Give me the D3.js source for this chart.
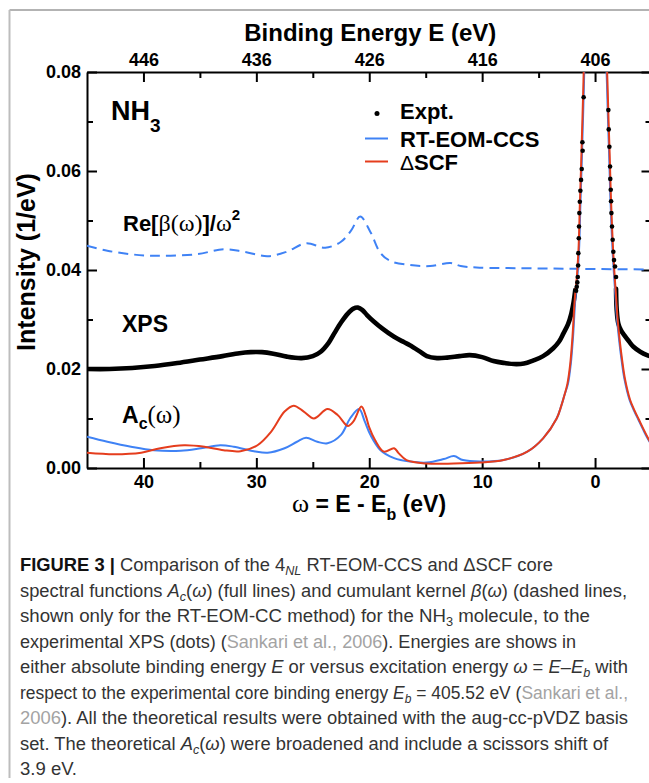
<!DOCTYPE html>
<html>
<head>
<meta charset="utf-8">
<script src="https://cdn.jsdelivr.net/npm/d3@7"></script>
<style>
  body { margin: 0; background: #fff; }
</style>
</head>
<body>
<div id="chart"></div>
<script>
// ---- values ----
const yTicks = [0, 0.02, 0.04, 0.06, 0.08];
const yMinor = [0.01, 0.03, 0.05, 0.07];
const xTicks = [40, 30, 20, 10, 0];
const xMinor = [35, 25, 15, 5];
const eTicks = [446, 436, 426, 416, 406];
const eMinor = [441, 431, 421, 411];
const eShift = 406; // top axis sits on top of the omega axis at this offset

// experimental XPS (thick dotted trace), both sides of the main peak
const xpsLeftOmega = [45, 43, 41, 39, 37, 35, 33, 31.5, 30.5, 29.5, 28.5, 27.3, 26, 25, 24.3, 23.6, 23.1, 22.5, 21.9, 21.4, 21.0, 20.6, 20.2, 19.6, 18.8, 17.8, 16.9, 16.4, 15.5, 14.9, 14.0, 13.1, 12, 11.1, 10, 9.0, 8, 7.2, 6.3, 5.5, 4.6, 3.7, 3.2, 2.8, 2.4, 2.1, 1.9, 1.75];
const xpsLeftVal = [0.0200, 0.0200, 0.0202, 0.0206, 0.0212, 0.0219, 0.0226, 0.0232, 0.0234, 0.0234, 0.0231, 0.0225, 0.0222, 0.0226, 0.0235, 0.0253, 0.0272, 0.0294, 0.0312, 0.0322, 0.0324, 0.0319, 0.0309, 0.0296, 0.0281, 0.0265, 0.0254, 0.0248, 0.0235, 0.0226, 0.0222, 0.0223, 0.0226, 0.0228, 0.0224, 0.0216, 0.0212, 0.0210, 0.0211, 0.0217, 0.0226, 0.0242, 0.0255, 0.0272, 0.0290, 0.0312, 0.0335, 0.0360];
const xpsRightOmega = [-1.86, -1.92, -2.06, -2.3, -2.6, -3.0, -3.4, -4.0, -4.6, -5.0];
const xpsRightVal = [0.0362, 0.0319, 0.0292, 0.0278, 0.0268, 0.0256, 0.0245, 0.0235, 0.0228, 0.0225];
// separate expt. points on the steep flanks of the peak
const dotLeftOmega = [1.01, 1.12, 1.10, 1.18, 1.24, 1.30, 1.35, 1.39, 1.42, 1.44, 1.48, 1.50, 1.53, 1.57, 1.62, 1.68];
const dotLeftVal = [0.0749, 0.0658, 0.0641, 0.0604, 0.0582, 0.0560, 0.0538, 0.0515, 0.0488, 0.0464, 0.0434, 0.0409, 0.0386, 0.0375, 0.0366, 0.0358];
const dotRightOmega = [-1.18, -1.21, -1.27, -1.33, -1.35, -1.39, -1.42, -1.45, -1.50, -1.56, -1.62, -1.68, -1.77, -1.86];
const dotRightVal = [0.0723, 0.0684, 0.0649, 0.0609, 0.0584, 0.0562, 0.0539, 0.0515, 0.0488, 0.0461, 0.0437, 0.0420, 0.0407, 0.0386];

// Delta-SCF spectral function (red)
const scfOmega = [45, 42.6, 40.2, 38.5, 36.4, 34.6, 32.9, 31.4, 29.9, 28.7, 27.5, 26.7, 25.8, 24.9, 23.7, 22.8, 21.9, 21.4, 20.7, 20.3, 20.0, 19.5, 18.7, 17.8, 17.4, 16.7, 14.9, 12.5, 10.2, 8.1, 6.0, 4.6, 3.4, 3.0, 2.7, 2.45, 2.2, 2.0, 1.8, 1.6, 1.45, 1.35, 1.25, 1.15, 1.05, 0.95, 0.7, 0.35, 0, -0.35, -0.7, -0.95, -1.1, -1.2, -1.3, -1.4, -1.5, -1.6, -1.7, -1.85, -2.0, -2.2, -2.4, -2.65, -3.1, -3.5, -3.9, -4.3, -4.7, -5.0];
const scfVal = [0.0031, 0.0028, 0.0031, 0.0040, 0.0046, 0.0043, 0.0036, 0.0034, 0.0046, 0.0073, 0.0114, 0.0126, 0.0114, 0.0100, 0.0119, 0.0107, 0.0085, 0.0094, 0.0124, 0.0105, 0.0082, 0.0057, 0.0033, 0.0040, 0.0030, 0.0016, 0.0009, 0.0009, 0.0011, 0.0016, 0.0033, 0.0060, 0.0100, 0.0125, 0.0148, 0.0170, 0.0210, 0.0265, 0.0340, 0.0390, 0.0450, 0.0530, 0.0600, 0.0680, 0.0760, 0.0860, 0.1150, 0.1700, 0.2100, 0.1700, 0.1150, 0.0880, 0.0780, 0.0700, 0.0630, 0.0550, 0.0490, 0.0440, 0.0400, 0.0350, 0.0300, 0.0255, 0.0218, 0.0180, 0.0138, 0.0116, 0.0097, 0.0078, 0.0060, 0.0048];

// RT-EOM-CCS spectral function (blue)
const eomOmega = [45, 43.2, 41.1, 39.1, 36.7, 34.9, 33.2, 32.0, 30.2, 29.0, 27.5, 26.4, 25.6, 24.6, 23.7, 22.5, 21.7, 20.9, 20.4, 19.9, 19.0, 17.8, 16.4, 14.9, 13.4, 12.5, 11.7, 10.2, 8.1, 6.0, 4.6, 3.4, 3.0, 2.7, 2.4, 2.15, 1.95, 1.75, 1.55, 1.4, 1.3, 1.2, 1.1, 1.0, 0.9, 0.65, 0.3, 0, -0.3, -0.65, -0.9, -1.05, -1.15, -1.25, -1.35, -1.45, -1.55, -1.65, -1.8, -1.95, -2.15, -2.35, -2.6, -3.05, -3.45, -3.85, -4.25, -4.65, -5.0];
const eomVal = [0.0063, 0.0053, 0.0043, 0.0036, 0.0035, 0.0040, 0.0046, 0.0043, 0.0034, 0.0031, 0.0040, 0.0053, 0.0061, 0.0053, 0.0050, 0.0067, 0.0100, 0.0119, 0.0094, 0.0067, 0.0036, 0.0020, 0.0013, 0.0011, 0.0018, 0.0024, 0.0016, 0.0013, 0.0016, 0.0033, 0.0060, 0.0100, 0.0125, 0.0148, 0.0170, 0.0210, 0.0265, 0.0340, 0.0390, 0.0450, 0.0530, 0.0600, 0.0680, 0.0760, 0.0860, 0.1150, 0.1700, 0.2100, 0.1700, 0.1150, 0.0880, 0.0780, 0.0700, 0.0630, 0.0550, 0.0490, 0.0440, 0.0400, 0.0350, 0.0300, 0.0255, 0.0218, 0.0180, 0.0138, 0.0116, 0.0097, 0.0078, 0.0060, 0.0047];

// cumulant kernel Re[beta]/omega^2 (blue dashed)
const betaOmega = [45, 43.2, 41.2, 39.5, 37.6, 35.2, 32.9, 31.1, 29.0, 27.3, 25.6, 23.9, 22.5, 21.6, 20.8, 19.9, 19.0, 18.1, 16.4, 14.6, 12.8, 11.9, 10.5, 8, 4, 0, -5];
const betaVal = [0.0449, 0.0439, 0.0432, 0.0429, 0.0429, 0.0432, 0.0442, 0.0437, 0.0428, 0.0437, 0.0454, 0.0445, 0.0457, 0.0480, 0.0508, 0.0477, 0.0434, 0.0418, 0.0410, 0.0408, 0.0414, 0.0408, 0.0405, 0.0404, 0.0403, 0.0402, 0.0401];

const legendLabels = ["Expt.", "RT-EOM-CCS", "SCF"];

const blue = "#3f82f5";
const red = "#e53d1d";

// ---- layout ----
const W = 649, H = 783;
const L = 87, R = 651.5, T = 72, B = 468;

const svg = d3.select("#chart").append("svg")
  .attr("width", W).attr("height", H)
  .style("font-family", "'Liberation Sans', Arial, sans-serif");

// figure frame (top + left rule)
svg.append("line").attr("x1", 9.5).attr("x2", W).attr("y1", 10).attr("y2", 10)
  .attr("stroke", "#9a9a9a").attr("stroke-width", 1.5);
svg.append("line").attr("x1", 9.5).attr("x2", 9.5).attr("y1", 10).attr("y2", 778)
  .attr("stroke", "#bdbdbd").attr("stroke-width", 2);

const x = d3.scaleLinear().domain([45, -5]).range([L, R]);
const xE = d3.scaleLinear().domain([45 + eShift, -5 + eShift]).range([L, R]);
const y = d3.scaleLinear().domain([0, 0.08]).range([B, T]);

function styleAxis(g) {
  g.select(".domain").attr("stroke-width", 2);
  g.selectAll(".tick line").attr("stroke-width", 2);
  g.selectAll(".tick text")
    .attr("font-size", 18).attr("font-weight", "bold")
    .attr("font-family", "'Liberation Sans', Arial, sans-serif").attr("fill", "#000");
}
function minorAxis(g) {
  g.select(".domain").remove();
  g.selectAll(".tick line").attr("stroke-width", 2);
}

svg.append("g").attr("transform", `translate(0,${B})`)
  .call(d3.axisBottom(x).tickValues(xTicks).tickSizeInner(-10).tickSizeOuter(0).tickPadding(7).tickFormat(d3.format("d")))
  .call(styleAxis);
svg.append("g").attr("transform", `translate(0,${B})`)
  .call(d3.axisBottom(x).tickValues(xMinor).tickSize(-6).tickFormat(""))
  .call(minorAxis);

svg.append("g").attr("transform", `translate(0,${T})`)
  .call(d3.axisTop(xE).tickValues(eTicks).tickSizeInner(-10).tickSizeOuter(0).tickPadding(6).tickFormat(d3.format("d")))
  .call(styleAxis);
svg.append("g").attr("transform", `translate(0,${T})`)
  .call(d3.axisTop(xE).tickValues(eMinor).tickSize(-6).tickFormat(""))
  .call(minorAxis);

svg.append("g").attr("transform", `translate(${L},0)`)
  .call(d3.axisLeft(y).tickValues(yTicks).tickSizeInner(-10).tickSizeOuter(0).tickPadding(6).tickFormat(d3.format(".2f")))
  .call(styleAxis);
svg.append("g").attr("transform", `translate(${L},0)`)
  .call(d3.axisLeft(y).tickValues(yMinor).tickSize(-6).tickFormat(""))
  .call(minorAxis);

svg.append("g").attr("transform", `translate(${R},0)`)
  .call(d3.axisRight(y).tickValues(yTicks).tickSizeInner(-10).tickSizeOuter(0).tickFormat(""))
  .call(styleAxis);
svg.append("g").attr("transform", `translate(${R},0)`)
  .call(d3.axisRight(y).tickValues(yMinor).tickSize(-6).tickFormat(""))
  .call(minorAxis);

// ---- curves ----
svg.append("clipPath").attr("id", "plot")
  .append("rect").attr("x", L).attr("y", T).attr("width", R - L).attr("height", B - T);
const plot = svg.append("g").attr("clip-path", "url(#plot)");

const line = d3.line()
  .x(d => x(d[0])).y(d => y(d[1]))
  .curve(d3.curveCatmullRom.alpha(0.5));

plot.append("path").datum(d3.zip(betaOmega, betaVal))
  .attr("d", line).attr("fill", "none").attr("stroke", blue)
  .attr("stroke-width", 2).attr("stroke-dasharray", "10,6");

[[xpsLeftOmega, xpsLeftVal], [xpsRightOmega, xpsRightVal]].forEach(([o, v]) => {
  plot.append("path").datum(d3.zip(o, v))
    .attr("d", line).attr("fill", "none").attr("stroke", "#000")
    .attr("stroke-width", 4.6).attr("stroke-linecap", "round").attr("stroke-linejoin", "round");
});

plot.append("path").datum(d3.zip(eomOmega, eomVal))
  .attr("d", line).attr("fill", "none").attr("stroke", blue).attr("stroke-width", 2);
plot.append("path").datum(d3.zip(scfOmega, scfVal))
  .attr("d", line).attr("fill", "none").attr("stroke", red).attr("stroke-width", 2);

plot.selectAll("circle.expt")
  .data(d3.zip(dotLeftOmega, dotLeftVal).concat(d3.zip(dotRightOmega, dotRightVal)))
  .enter().append("circle").attr("class", "expt")
  .attr("cx", d => x(d[0])).attr("cy", d => y(d[1])).attr("r", 2.3).attr("fill", "#000");

// ---- text helpers ----
const SANS = "'Liberation Sans', Arial, sans-serif";
const SERIF = "'Liberation Serif', 'Times New Roman', serif";
function rich(parent, px, py, parts, opts) {
  const t = parent.append("text").attr("x", px).attr("y", py)
    .attr("font-size", opts.size).attr("font-weight", "bold").attr("font-family", SANS)
    .attr("fill", opts.fill || "#000");
  if (opts.anchor) t.attr("text-anchor", opts.anchor);
  parts.forEach(p => {
    const s = t.append("tspan").text(p.t);
    if (p.serif) s.attr("font-family", SERIF).attr("font-weight", "normal");
    if (p.light) s.attr("font-weight", "normal");
    if (p.size) s.attr("font-size", p.size);
    if (p.dy) s.attr("dy", p.dy);
  });
  return t;
}

// axis titles
svg.append("text").attr("x", (L + R) / 2 + 1).attr("y", 41).attr("text-anchor", "middle")
  .attr("font-size", 24).attr("font-weight", "bold").text("Binding Energy E (eV)");
svg.append("text").attr("transform", "translate(35,262) rotate(-90)").attr("text-anchor", "middle")
  .attr("font-size", 25).attr("font-weight", "bold").text("Intensity (1/eV)");
rich(svg, 369, 512, [
  { t: "\u03c9", serif: true, size: 26 }, { t: " = E - E" }, { t: "b", size: 16, dy: 8 }, { t: " (eV)", dy: -8 }
], { size: 23, anchor: "middle" });

// annotations
rich(svg, 111, 119.5, [{ t: "NH" }, { t: "3", size: 19, dy: 12 }], { size: 27 });
rich(svg, 123, 231, [
  { t: "Re[" }, { t: "\u03b2(\u03c9)", serif: true, size: 24 }, { t: "]/" },
  { t: "\u03c9", serif: true, size: 24 }, { t: "2", size: 15, dy: -11 }
], { size: 22 });
rich(svg, 122, 331.5, [{ t: "XPS" }], { size: 23 });
rich(svg, 122, 423, [
  { t: "A" }, { t: "c", size: 16, dy: 6 }, { t: "(\u03c9)", serif: true, size: 25, dy: -6 }
], { size: 23 });

// legend
const lg = svg.append("g");
lg.append("circle").attr("cx", 377).attr("cy", 113.5).attr("r", 2.5).attr("fill", "#000");
lg.append("line").attr("x1", 365).attr("x2", 388).attr("y1", 138.5).attr("y2", 138.5).attr("stroke", blue).attr("stroke-width", 2);
lg.append("line").attr("x1", 365).attr("x2", 388).attr("y1", 161.5).attr("y2", 161.5).attr("stroke", red).attr("stroke-width", 2);
rich(lg, 400, 118.5, [{ t: legendLabels[0] }], { size: 22 });
rich(lg, 400, 146.5, [{ t: legendLabels[1] }], { size: 22 });
rich(lg, 400, 170, [{ t: "\u0394", light: true, size: 21 }, { t: legendLabels[2] }], { size: 22 });

// ---- caption ----
const capLines = [
  [["FIGURE 3 | ", "b"], ["Comparison of the 4"], ["NL", "isub"], [" RT-EOM-CCS and \u0394SCF core"]],
  [["spectral functions "], ["A", "i"], ["c", "isub"], ["("], ["\u03c9", "i"], [") (full lines) and cumulant kernel "], ["\u03b2", "i"], ["("], ["\u03c9", "i"], [") (dashed lines,"]],
  [["shown only for the RT-EOM-CC method) for the NH"], ["3", "sub"], [" molecule, to the"]],
  [["experimental XPS (dots) ("], ["Sankari et al., 2006", "g"], ["). Energies are shows in"]],
  [["either absolute binding energy "], ["E", "i"], [" or versus excitation energy "], ["\u03c9", "i"], [" = "], ["E", "i"], ["\u2013"], ["E", "i"], ["b", "isub"], [" with"]],
  [["respect to the experimental core binding energy "], ["E", "i"], ["b", "isub"], [" = 405.52 eV ("], ["Sankari et al.,", "g"]],
  [["2006", "g"], ["). All the theoretical results were obtained with the aug-cc-pVDZ basis"]],
  [["set. The theoretical "], ["A", "i"], ["c", "isub"], ["("], ["\u03c9", "i"], [") were broadened and include a scissors shift of"]],
  [["3.9 eV."]]
];
const capWidths = [533, 607, 570, 556, 608, 608, 608, 588, 57];

const cap = svg.append("g")
  .attr("font-family", "'Liberation Sans Narrow', 'Liberation Sans', Arial, sans-serif")
  .attr("font-size", 17.5).attr("fill", "#333");
capLines.forEach((parts, i) => {
  const t = cap.append("text").attr("x", 20).attr("y", 571 + i * 25.5);
  let shifted = false;
  parts.forEach(([s, st]) => {
    const sp = t.append("tspan").text(s);
    const isSub = st === "sub" || st === "isub";
    if (isSub && !shifted) { sp.attr("dy", 4).attr("font-size", 12); shifted = true; }
    else if (isSub) sp.attr("font-size", 12);
    else if (shifted) { sp.attr("dy", -4); shifted = false; }
    if (st === "b") sp.attr("font-weight", "bold").attr("fill", "#111");
    if (st === "i" || st === "isub") sp.attr("font-style", "italic");
    if (st === "g") sp.attr("fill", "#a3a3a3");
  });
  t.attr("textLength", capWidths[i]).attr("lengthAdjust", "spacingAndGlyphs");
});
</script>
</body>
</html>
